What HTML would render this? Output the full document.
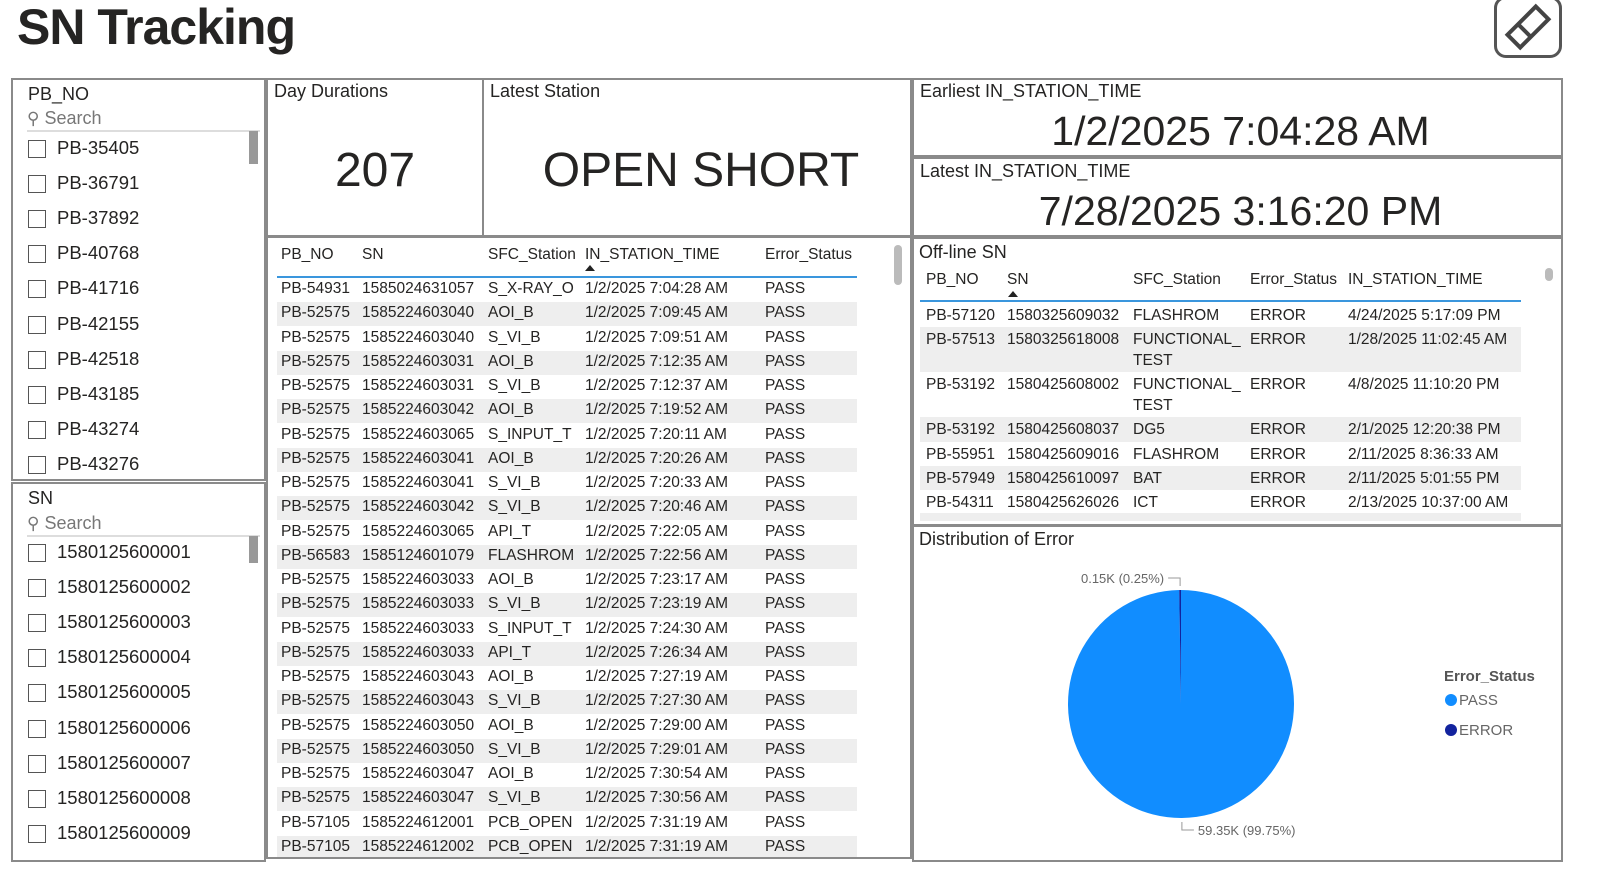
<!DOCTYPE html>
<html><head><meta charset="utf-8">
<style>
*{box-sizing:border-box;margin:0;padding:0}
body{width:1606px;height:879px;background:#fff;font-family:"Liberation Sans",sans-serif;color:#252423;position:relative;overflow:hidden}
.abs{position:absolute}
.box{position:absolute;border:2px solid #8a8a8a;background:#fff}
.ttl{position:absolute;font-size:18px;color:#252423}
.cb{position:absolute;width:18px;height:18px;border:1px solid #555;background:#fff}
.sl{position:absolute;font-size:18.5px;color:#252423}
.cell{position:absolute;font-size:15.5px;white-space:nowrap;color:#252423}
.stripe{position:absolute;background:#eeeeee}
</style></head><body>
<div class="abs" style="left:17px;top:-2px;font-size:50px;font-weight:bold;letter-spacing:-1px">SN Tracking</div>
<div class="abs" style="left:1494px;top:-4px;width:68px;height:62px;border:3px solid #555;border-radius:12px">
<svg width="62" height="56" viewBox="0 0 62 56"><g transform="translate(31,28) rotate(-45)" fill="none" stroke="#444" stroke-width="4"><rect x="-20" y="-9" width="40" height="18"/><line x1="-5" y1="-9" x2="-5" y2="9"/></g></svg></div>

<!-- PB_NO slicer -->
<div class="box" style="left:11px;top:78px;width:255px;height:403px"></div>
<div class="ttl" style="left:28px;top:84px">PB_NO</div>
<div class="abs" style="left:27px;top:108px;width:233px;height:24px;border-bottom:2px solid #ddd;font-size:18px;color:#777"><span style="font-size:17px">&#9906;</span> Search</div>
<div class="abs" style="left:249px;top:131px;width:9px;height:33px;background:#999"></div>
<div id="pbList"></div>

<!-- SN slicer -->
<div class="box" style="left:11px;top:482px;width:255px;height:380px"></div>
<div class="ttl" style="left:28px;top:488px">SN</div>
<div class="abs" style="left:27px;top:513px;width:233px;height:24px;border-bottom:2px solid #ddd;font-size:18px;color:#777"><span style="font-size:17px">&#9906;</span> Search</div>
<div class="abs" style="left:249px;top:536px;width:9px;height:27px;background:#999"></div>
<div id="snList"></div>

<!-- cards -->
<div class="box" style="left:266px;top:78px;width:218px;height:159px"></div>
<div class="ttl" style="left:274px;top:81px">Day Durations</div>
<div class="abs" style="left:268px;top:143px;width:214px;text-align:center;font-size:48px">207</div>
<div class="box" style="left:482px;top:78px;width:430px;height:159px"></div>
<div class="ttl" style="left:490px;top:81px">Latest Station</div>
<div class="abs" style="left:484px;top:143px;width:426px;text-align:center;font-size:48px;padding-left:8px">OPEN SHORT</div>
<div class="box" style="left:912px;top:78px;width:651px;height:79px"></div>
<div class="ttl" style="left:920px;top:81px">Earliest IN_STATION_TIME</div>
<div class="abs" style="left:914px;top:108px;width:647px;text-align:center;font-size:41px;padding-left:6px">1/2/2025 7:04:28 AM</div>
<div class="box" style="left:912px;top:157px;width:651px;height:80px"></div>
<div class="ttl" style="left:920px;top:161px">Latest IN_STATION_TIME</div>
<div class="abs" style="left:914px;top:188px;width:647px;text-align:center;font-size:41px;padding-left:6px">7/28/2025 3:16:20 PM</div>

<!-- main table -->
<div class="box" style="left:266px;top:236px;width:646px;height:623px;overflow:hidden"></div>
<div class="abs" style="left:894px;top:245px;width:8px;height:40px;border-radius:4px;background:#bbb"></div>
<div id="mainT"></div>

<!-- offline table -->
<div class="box" style="left:912px;top:237px;width:651px;height:289px"></div>
<div class="ttl" style="left:919px;top:242px">Off-line SN</div>
<div class="abs" style="left:1545px;top:268px;width:8px;height:13px;border-radius:4px;background:#bbb"></div>
<div id="offT"></div>

<!-- pie -->
<div class="box" style="left:912px;top:525px;width:651px;height:337px"></div>
<div class="ttl" style="left:919px;top:529px">Distribution of Error</div>
<svg id="pie" class="abs" style="left:912px;top:525px" width="651" height="337"></svg>

<script>
const pbItems=["PB-35405","PB-36791","PB-37892","PB-40768","PB-41716","PB-42155","PB-42518","PB-43185","PB-43274","PB-43276"];
const snItems=["1580125600001","1580125600002","1580125600003","1580125600004","1580125600005","1580125600006","1580125600007","1580125600008","1580125600009"];
function slicer(id,items,top,bottom){
  const c=document.getElementById(id);
  items.forEach((t,i)=>{
    const y=top+i*35.1; if(y>bottom) return;
    const b=document.createElement('div');b.className='cb';b.style.left='28px';b.style.top=(y-9)+'px';
    if(y+9>bottom){b.style.height=(bottom-y+9)+'px';b.style.borderBottom='none';}
    
    
    c.appendChild(b);
    const s=document.createElement('div');s.className='sl';s.textContent=t;s.style.left='57px';s.style.top=(y-12)+'px';
    if(y+12>bottom){s.style.height=(bottom-y+12)+'px';s.style.overflow='hidden';}
    
    
    c.appendChild(s);
  });
}
slicer('pbList',pbItems,149,476);
slicer('snList',snItems,553,858);

const mainCols=["PB_NO","SN","SFC_Station","IN_STATION_TIME","Error_Status"];
const mainX=[281,362,488,585,765];
const mainPB=["PB-54931","PB-52575","PB-52575","PB-52575","PB-52575","PB-52575","PB-52575","PB-52575","PB-52575","PB-52575","PB-52575","PB-56583","PB-52575","PB-52575","PB-52575","PB-52575","PB-52575","PB-52575","PB-52575","PB-52575","PB-52575","PB-52575","PB-57105","PB-57105"];
const mainSN=["1585024631057","1585224603040","1585224603040","1585224603031","1585224603031","1585224603042","1585224603065","1585224603041","1585224603041","1585224603042","1585224603065","1585124601079","1585224603033","1585224603033","1585224603033","1585224603033","1585224603043","1585224603043","1585224603050","1585224603050","1585224603047","1585224603047","1585224612001","1585224612002"];
const mainSt=["S_X-RAY_O","AOI_B","S_VI_B","AOI_B","S_VI_B","AOI_B","S_INPUT_T","AOI_B","S_VI_B","S_VI_B","API_T","FLASHROM","AOI_B","S_VI_B","S_INPUT_T","API_T","AOI_B","S_VI_B","AOI_B","S_VI_B","AOI_B","S_VI_B","PCB_OPEN","PCB_OPEN"];
const mainTime=["7:04:28","7:09:45","7:09:51","7:12:35","7:12:37","7:19:52","7:20:11","7:20:26","7:20:33","7:20:46","7:22:05","7:22:56","7:23:17","7:23:19","7:24:30","7:26:34","7:27:19","7:27:30","7:29:00","7:29:01","7:30:54","7:30:56","7:31:19","7:31:19"];
const mt=document.getElementById('mainT');
function cell(parent,txt,x,y,name){const d=document.createElement('div');d.className='cell';d.textContent=txt;d.style.left=x+'px';d.style.top=y+'px';


parent.appendChild(d);return d;}
mainCols.forEach((h,i)=>{const d=cell(mt,h,mainX[i],246,'main-table-header');});
{const a=document.createElement('div');a.className='abs';a.style.cssText='left:585px;top:265px;width:0;height:0;border-left:5px solid transparent;border-right:5px solid transparent;border-bottom:6px solid #222';


mt.appendChild(a);}
{const l=document.createElement('div');l.className='abs';l.style.cssText='left:277px;top:276px;width:580px;height:2px;background:#3a96dd';


mt.appendChild(l);}
mainPB.forEach((pb,i)=>{
  const yc=290+i*24.25; if(yc>858) return;
  if(i%2==1){const s=document.createElement('div');s.className='stripe';s.style.left='277px';s.style.top=(yc-12)+'px';s.style.width='580px';s.style.height=Math.min(24,857-(yc-12))+'px';
  
  
  mt.appendChild(s);}
  const vals=[pb,mainSN[i],mainSt[i],"1/2/2025 "+mainTime[i]+" AM","PASS"];
  vals.forEach((v,j)=>{const d=cell(mt,v,mainX[j],yc-10,'main-table-cell');if(yc+10>857){d.style.height=(857-yc+10)+'px';d.style.overflow='hidden';}});
});

const offCols=["PB_NO","SN","SFC_Station","Error_Status","IN_STATION_TIME"];
const offX=[926,1007,1133,1250,1348];
const offPB=["PB-57120","PB-57513","PB-53192","PB-53192","PB-55951","PB-57949","PB-54311"];
const offSN=["1580325609032","1580325618008","1580425608002","1580425608037","1580425609016","1580425610097","1580425626026"];
const offSt=["FLASHROM","FUNCTIONAL_\nTEST","FUNCTIONAL_\nTEST","DG5","FLASHROM","BAT","ICT"];
const offTime=["4/24/2025 5:17:09 PM","1/28/2025 11:02:45 AM","4/8/2025 11:10:20 PM","2/1/2025 12:20:38 PM","2/11/2025 8:36:33 AM","2/11/2025 5:01:55 PM","2/13/2025 10:37:00 AM"];
const ot=document.getElementById('offT');
offCols.forEach((h,i)=>{const d=cell(ot,h,offX[i],271,'offline-table-header');});
{const a=document.createElement('div');a.className='abs';a.style.cssText='left:1008px;top:291px;width:0;height:0;border-left:5px solid transparent;border-right:5px solid transparent;border-bottom:6px solid #222';


ot.appendChild(a);}
{const l=document.createElement('div');l.className='abs';l.style.cssText='left:920px;top:300px;width:601px;height:2px;background:#3a96dd';


ot.appendChild(l);}
let oy=303;
offPB.forEach((pb,i)=>{
  const two=offSt[i].includes('\n'); const h=two?45:24.3;
  if(i%2==1){const s=document.createElement('div');s.className='stripe';s.style.left='920px';s.style.top=oy+'px';s.style.width='601px';s.style.height=h+'px';
  
  
  ot.appendChild(s);}
  const vals=[pb,offSN[i],offSt[i],"ERROR",offTime[i]];
  vals.forEach((v,j)=>{const d=cell(ot,'',offX[j],oy+2,'offline-table-cell');d.innerHTML=v.replace('\n','<br>');d.style.lineHeight='21px';});
  oy+=h;
});
{const s=document.createElement('div');s.className='stripe';s.style.cssText='left:920px;top:513px;width:601px;height:8px;background:#eee';


ot.appendChild(s);}

// pie chart data
const pieCats=["PASS","ERROR"];
const pieVals=[59350,150];
const pieLabels=["59.35K (99.75%)","0.15K (0.25%)"];
const pieColors=["#118dff","#12239e"];
const svg=document.getElementById('pie');const NS='http://www.w3.org/2000/svg';
const cx=269,cy=179,rx=113,ry=114;
const total=pieVals.reduce((a,b)=>a+b,0);
let ang=0;
function pt(a){return [cx+rx*Math.sin(a),cy-ry*Math.cos(a)];}
pieVals.forEach((v,i)=>{
  const a0=ang,a1=ang+v/total*2*Math.PI;ang=a1;
  const p0=pt(a0),p1=pt(a1);const large=(a1-a0)>Math.PI?1:0;
  const p=document.createElementNS(NS,'path');
  p.setAttribute('d',`M${cx},${cy}L${p0[0]},${p0[1]}A${rx},${ry} 0 ${large} 1 ${p1[0]},${p1[1]}Z`);
  p.setAttribute('fill',pieColors[i]);
  
  
  svg.appendChild(p);
  const mid=(a0+a1)/2;const e=pt(mid);
  const up=Math.cos(mid)>0;
  const ly=up?cy-ry-12:cy+ry+12;
  const ln=document.createElementNS(NS,'polyline');
  const lx=up?e[0]-12:e[0]+12;
  ln.setAttribute('points',`${e[0]},${up?e[1]-4:e[1]+4} ${e[0]},${ly} ${lx},${ly}`);
  ln.setAttribute('fill','none');ln.setAttribute('stroke','#999');ln.setAttribute('stroke-width','1');
  
  
  svg.appendChild(ln);
  const t=document.createElementNS(NS,'text');
  t.setAttribute('x',up?lx-4:lx+4);t.setAttribute('y',ly+5);
  t.setAttribute('text-anchor',up?'end':'start');t.setAttribute('font-size','13');t.setAttribute('fill','#666');
  t.setAttribute('font-family','Liberation Sans, sans-serif');
  t.textContent=pieLabels[i];
  
  
  svg.appendChild(t);
});
const lt=document.createElementNS(NS,'text');lt.setAttribute('x',532);lt.setAttribute('y',156);lt.setAttribute('font-size','15');lt.setAttribute('font-weight','bold');lt.setAttribute('fill','#555');lt.setAttribute('font-family','Liberation Sans, sans-serif');lt.textContent='Error_Status';


svg.appendChild(lt);
pieCats.forEach((c,i)=>{
  const y=175+i*30;
  const ci=document.createElementNS(NS,'circle');ci.setAttribute('cx',539);ci.setAttribute('cy',y);ci.setAttribute('r',6);ci.setAttribute('fill',pieColors[i]);
  
  
  svg.appendChild(ci);
  const t=document.createElementNS(NS,'text');t.setAttribute('x',547);t.setAttribute('y',y+5);t.setAttribute('font-size','15');t.setAttribute('fill','#666');t.setAttribute('font-family','Liberation Sans, sans-serif');t.textContent=c;
  
  
  svg.appendChild(t);
});
</script>
</body></html>
